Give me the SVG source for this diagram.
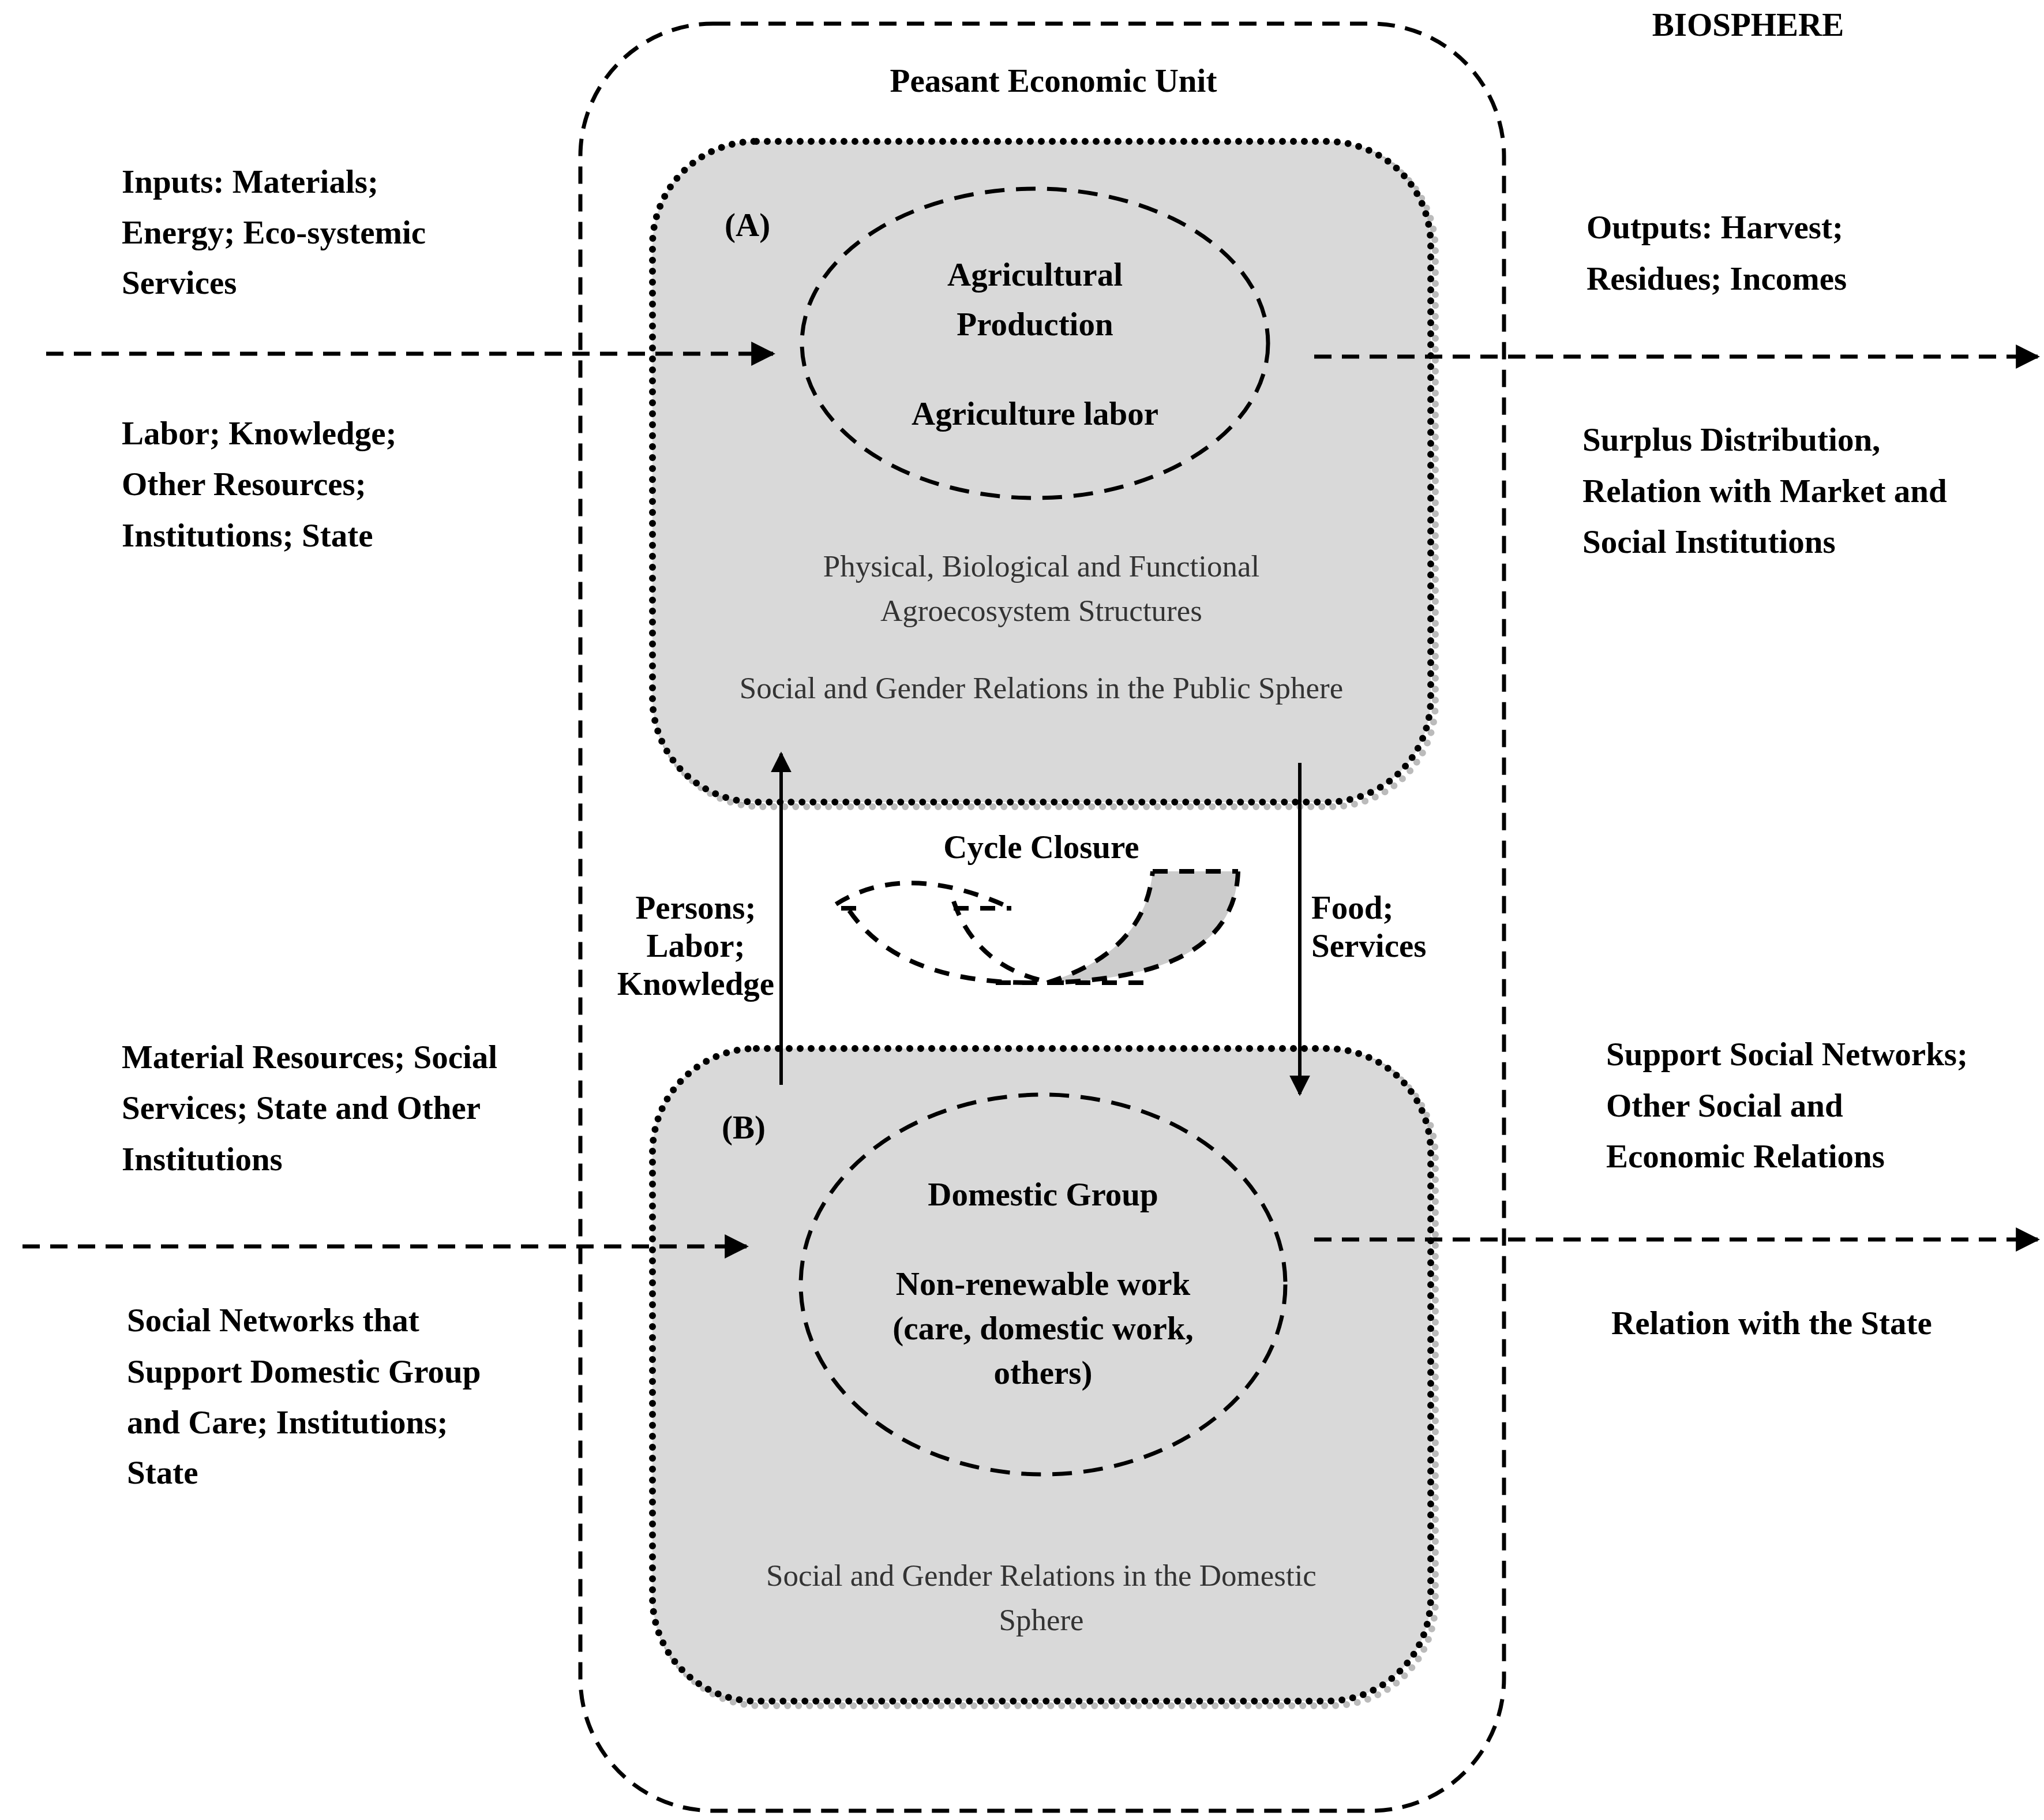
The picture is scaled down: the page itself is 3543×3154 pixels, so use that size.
<svg xmlns="http://www.w3.org/2000/svg" width="3543" height="3154" viewBox="0 0 3543 3154">
<defs>
<style>
text{font-family:"Liberation Serif","DejaVu Serif",serif;fill:#000}
.b{font-weight:bold;font-size:57px}
.c{text-anchor:middle}
.g{font-size:53px;fill:#333}
.dash{fill:none;stroke:#000;stroke-width:7;stroke-dasharray:30 18}
.box{fill:#d9d9d9;stroke:#000;stroke-width:12;stroke-dasharray:0 19;stroke-linecap:round}
.shadow{fill:none;stroke:#bbb;stroke-width:12;stroke-dasharray:0 19;stroke-linecap:round}
.ell{fill:none;stroke:#000;stroke-width:7;stroke-dasharray:34 20}
.cyc{fill:none;stroke:#000;stroke-width:8;stroke-dasharray:26 20}
</style>
<marker id="ah" viewBox="0 0 10 10" refX="9" refY="5" markerWidth="6" markerHeight="6" orient="auto" markerUnits="strokeWidth"><path d="M0,0L10,5L0,10z" fill="#000"/></marker>
</defs>
<rect width="3543" height="3154" fill="#fff"/>
<g id="biosphere"><text class="b" x="3030" y="62" text-anchor="middle">BIOSPHERE</text></g>
<g id="peasant-unit">
<rect x="1006" y="41" width="1601" height="3097" rx="230" class="dash" stroke-dasharray="20 14" stroke-width="5"/>
<text class="b c" x="1826" y="159" font-size="72">Peasant Economic Unit</text>
</g>
<g id="boxA">
<rect x="1139" y="253" width="1349" height="1145" rx="180" class="shadow"/>
<rect x="1131" y="245" width="1349" height="1145" rx="180" class="box"/>
<text class="b" x="1256" y="409">(A)</text>
<ellipse cx="1794" cy="595" rx="404" ry="268" class="ell"/>
<text class="b c" x="1794" y="495" font-size="59">Agricultural</text>
<text class="b c" x="1794" y="581" font-size="59">Production</text>
<text class="b c" x="1794" y="736" font-size="47">Agriculture labor</text>
<text class="g c" x="1805" y="999">Physical, Biological and Functional</text>
<text class="g c" x="1805" y="1076">Agroecosystem Structures</text>
<text class="g c" x="1805" y="1210">Social and Gender Relations in the Public Sphere</text>
</g>
<g id="boxB">
<rect x="1139" y="1825" width="1349" height="1131" rx="180" class="shadow"/>
<rect x="1131" y="1817" width="1349" height="1131" rx="180" class="box"/>
<text class="b" x="1251" y="1973">(B)</text>
<ellipse cx="1808" cy="2226" rx="420" ry="329" class="ell"/>
<text class="b c" x="1808" y="2089" font-size="60">Domestic Group</text>
<text class="b c" x="1808" y="2244" font-size="48">Non-renewable work</text>
<text class="b c" x="1808" y="2321" font-size="48">(care, domestic work,</text>
<text class="b c" x="1808" y="2398" font-size="48">others)</text>
<text class="g c" x="1805" y="2748">Social and Gender Relations in the Domestic</text>
<text class="g c" x="1805" y="2825">Sphere</text>
</g>
<g id="cycle">
<text class="b c" x="1805" y="1487" font-size="52">Cycle Closure</text>
<path d="M1998,1510 L2146,1510 Q2140,1695 1815,1703 Q1985,1650 1998,1510 Z" fill="#cccccc" stroke="none"/>
<path d="M1998,1510 L2146,1510 M2146,1510 Q2140,1695 1815,1703 M1815,1703 Q1985,1650 1998,1510" class="cyc"/>
<path d="M1449,1567 Q1570,1490 1753,1574" class="cyc"/>
<path d="M1458,1574 L1500,1574 M1653,1574 L1753,1574" class="cyc"/>
<path d="M1472,1578 Q1560,1705 1794,1703" class="cyc"/>
<path d="M1653,1562 Q1690,1670 1805,1699" class="cyc"/>
<path d="M1726,1703 L1998,1703" class="cyc"/>
</g>
<g id="labels">
<text class="b" x="211" y="334">Inputs: Materials;</text>
<text class="b" x="211" y="422">Energy; Eco-systemic</text>
<text class="b" x="211" y="509">Services</text>
<text class="b" x="211" y="770">Labor; Knowledge;</text>
<text class="b" x="211" y="858">Other Resources;</text>
<text class="b" x="211" y="947">Institutions; State</text>
<text class="b" x="211" y="1851">Material Resources; Social</text>
<text class="b" x="211" y="1939">Services; State and Other</text>
<text class="b" x="211" y="2028">Institutions</text>
<text class="b" x="220" y="2307">Social Networks that</text>
<text class="b" x="220" y="2396">Support Domestic Group</text>
<text class="b" x="220" y="2484">and Care; Institutions;</text>
<text class="b" x="220" y="2571">State</text>
<text class="b" x="2750" y="413">Outputs: Harvest;</text>
<text class="b" x="2750" y="502">Residues; Incomes</text>
<text class="b" x="2743" y="781">Surplus Distribution,</text>
<text class="b" x="2743" y="870">Relation with Market and</text>
<text class="b" x="2743" y="958">Social Institutions</text>
<text class="b" x="2784" y="1846">Support Social Networks;</text>
<text class="b" x="2784" y="1935">Other Social and</text>
<text class="b" x="2784" y="2023">Economic Relations</text>
<text class="b" x="2793" y="2312">Relation with the State</text>
<text class="b c" x="1206" y="1592" font-size="54">Persons;</text>
<text class="b c" x="1206" y="1658" font-size="54">Labor;</text>
<text class="b c" x="1206" y="1724" font-size="54">Knowledge</text>
<text class="b" x="2273" y="1592" font-size="54">Food;</text>
<text class="b" x="2273" y="1658" font-size="54">Services</text>
</g>
<g id="connectors">
<path d="M80,613 L1340,613" class="dash" stroke-dasharray="30 20" marker-end="url(#ah)"/>
<path d="M2278,618 L3532,618" class="dash" stroke-dasharray="30 20" marker-end="url(#ah)"/>
<path d="M39,2160 L1294,2160" class="dash" stroke-dasharray="30 20" marker-end="url(#ah)"/>
<path d="M2278,2148 L3532,2148" class="dash" stroke-dasharray="30 20" marker-end="url(#ah)"/>
<path d="M1354,1880 L1354,1306" stroke="#000" stroke-width="6" fill="none" marker-end="url(#ah)"/>
<path d="M2253,1322 L2253,1896" stroke="#000" stroke-width="6" fill="none" marker-end="url(#ah)"/>
</g>
</svg>
